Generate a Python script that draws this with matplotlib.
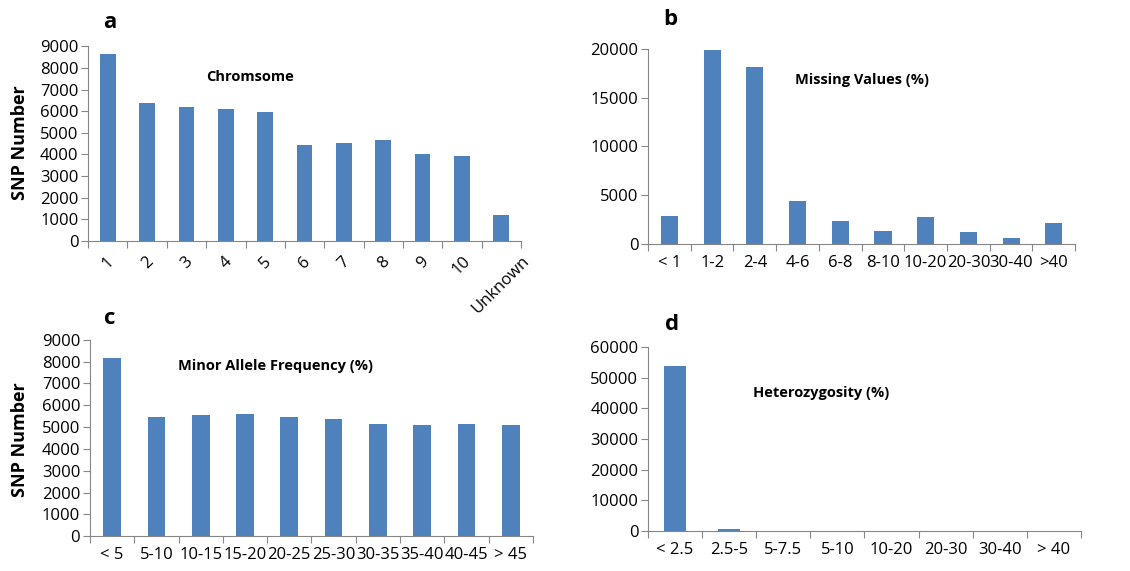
import matplotlib
matplotlib.use('Agg')
import matplotlib.pyplot as plt
import numpy as np

plt.rcParams['font.family'] = ['Open Sans', 'DejaVu Sans']

# a: chromosome
chrom_labels = ['1', '2', '3', '4', '5', '6', '7', '8', '9', '10', 'Unknown']
chrom_counts = [8650, 6400, 6200, 6080, 5950, 4450, 4520, 4650, 4000, 3920, 1200]

# b: missing values
miss_labels = ['< 1', '1-2', '2-4', '4-6', '6-8', '8-10', '10-20', '20-30', '30-40', '>40']
miss_counts = [2900, 19900, 18150, 4350, 2350, 1350, 2800, 1200, 600, 2100]

# c: minor allele frequency
maf_labels = ['< 5', '5-10', '10-15', '15-20', '20-25', '25-30', '30-35', '35-40', '40-45', '> 45']
maf_counts = [8150, 5450, 5550, 5600, 5450, 5350, 5150, 5100, 5150, 5100]

# d: heterozygosity
het_labels = ['< 2.5', '2.5-5', '5-7.5', '5-10', '10-20', '20-30', '30-40', '> 40']
het_counts = [53800, 500, 0, 0, 0, 0, 0, 0]

BLUE = '#4F81BD'
GREY = '#868686'
TICK_FS = 12


def bar_panel(fig, rect, labels, counts, ymax, ystep, title, title_xy, rot=0, width=0.4):
    ax = fig.add_axes(rect)
    x = np.arange(len(labels))
    ax.bar(x, counts, width=width, color=BLUE)
    ax.set_xlim(-0.5, len(labels) - 0.5)
    ax.set_ylim(0, ymax)
    ax.set_yticks(np.arange(0, ymax + 1, ystep))
    # category ticks sit between bars, labels at bar centres
    ax.set_xticks(np.arange(-0.5, len(labels), 1.0))
    ax.set_xticklabels([])
    ax.set_xticks(x, minor=True)
    if rot:
        ax.set_xticklabels(labels, minor=True, rotation=rot, ha='center', va='top')
        ax.tick_params(axis='x', which='minor', length=0, pad=9, labelsize=TICK_FS)
    else:
        ax.set_xticklabels(labels, minor=True)
        ax.tick_params(axis='x', which='minor', length=0, pad=8, labelsize=TICK_FS)
    ax.tick_params(axis='x', which='major', length=5, color=GREY)
    ax.tick_params(axis='y', length=5, color=GREY, labelsize=TICK_FS, pad=2)
    for s in ['top', 'right']:
        ax.spines[s].set_visible(False)
    for s in ['left', 'bottom']:
        ax.spines[s].set_color(GREY)
    ax.text(title_xy[0], title_xy[1], title, transform=ax.transAxes,
            ha='center', va='center', fontsize=10.5, fontweight='bold')
    return ax


fig = plt.figure(figsize=(11.3, 5.71), dpi=100)

bar_panel(fig, [0.078, 0.578, 0.383, 0.341], chrom_labels, chrom_counts, 9000, 1000,
          'Chromsome', (0.374, 0.84), rot=45)
bar_panel(fig, [0.5735, 0.573, 0.378, 0.341], miss_labels, miss_counts, 20000, 5000,
          'Missing Values (%)', (0.50, 0.84))
bar_panel(fig, [0.0796, 0.061, 0.392, 0.344], maf_labels, maf_counts, 9000, 1000,
          'Minor Allele Frequency (%)', (0.42, 0.867))
bar_panel(fig, [0.5735, 0.070, 0.383, 0.322], het_labels, het_counts, 60000, 10000,
          'Heterozygosity (%)', (0.40, 0.75))

for lab, (fx, fy) in zip('abcd', [(0.097, 0.960), (0.593, 0.965), (0.097, 0.443), (0.595, 0.431)]):
    fig.text(fx, fy, lab, fontsize=16, fontweight='bold', ha='center', va='center')

fig.text(0.018, 0.75, 'SNP Number', rotation=90, fontsize=13, fontweight='bold', ha='center', va='center')
fig.text(0.018, 0.23, 'SNP Number', rotation=90, fontsize=13, fontweight='bold', ha='center', va='center')

fig.savefig('out.png', dpi=100)
